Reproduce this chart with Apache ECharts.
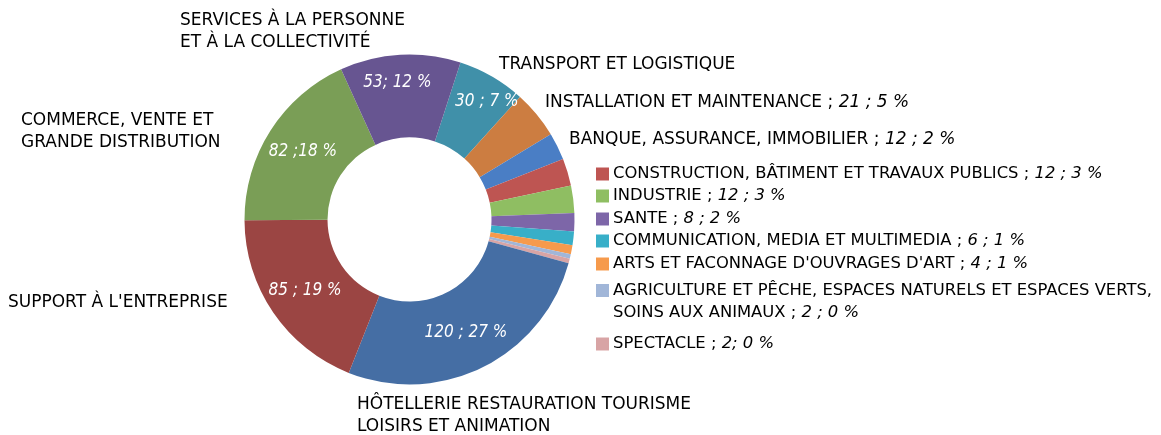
<!DOCTYPE html>
<html><head><meta charset="utf-8">
<script src="https://cdn.jsdelivr.net/npm/echarts@6/dist/echarts.min.js"></script>
<style>html,body{margin:0;padding:0;background:#fff}#c{width:1161px;height:435px}</style>
</head><body><div id="c"></div>
<script>
// Categories in clockwise order, starting right after "Services" at the top
const categories = [
  'TRANSPORT ET LOGISTIQUE',
  'INSTALLATION ET MAINTENANCE',
  'BANQUE, ASSURANCE, IMMOBILIER',
  'CONSTRUCTION, BÂTIMENT ET TRAVAUX PUBLICS',
  'INDUSTRIE',
  'SANTE',
  'COMMUNICATION, MEDIA ET MULTIMEDIA',
  "ARTS ET FACONNAGE D'OUVRAGES D'ART",
  'AGRICULTURE ET PÊCHE, ESPACES NATURELS ET ESPACES VERTS,\nSOINS AUX ANIMAUX',
  'SPECTACLE',
  'HÔTELLERIE RESTAURATION TOURISME\nLOISIRS ET ANIMATION',
  "SUPPORT À L'ENTREPRISE",
  'COMMERCE, VENTE ET\nGRANDE DISTRIBUTION',
  'SERVICES À LA PERSONNE\nET À LA COLLECTIVITÉ'
];
const values = [30, 21, 12, 12, 12, 8, 6, 4, 2, 2, 120, 85, 82, 53];
const percents = [7, 5, 2, 3, 3, 2, 1, 1, 0, 0, 27, 19, 18, 12];
// value labels shown inside the ring (as written on the chart)
const insideLabels = ['30 ; 7 %', '', '', '', '', '', '', '', '', '', '120 ; 27 %', '85 ; 19 %', '82 ;18 %', '53; 12 %'];
// value part shown after the category name outside the ring
const outsideValueLabels = ['', '21 ; 5 %', '12 ; 2 %', '12 ; 3 %', '12 ; 3 %', '8 ; 2 %', '6 ; 1 %', '4 ; 1 %', '2 ; 0 %', '2; 0 %', '', '', '', ''];
const colors = ['#4090A9', '#CC7D41', '#4A7EC5', '#BE5552', '#8FBE62', '#7D66A8', '#38AFC8', '#F69A4C', '#A1B6D8', '#D8A4A5', '#456EA4', '#9B4543', '#7A9E56', '#675591'];

// label placement (annotation layout)
const outsidePos = {
  0: [499, 65], 1: [545, 103], 2: [569, 140],
  3: [596, 174], 4: [596, 196], 5: [596, 219], 6: [596, 241], 7: [596, 264], 8: [596, 301.5], 9: [596, 344],
  10: [357, 416], 11: [8, 303], 12: [21, 132], 13: [180, 32]
};
const insideShift = { 0: [14, -8], 13: [-5, -11] };
const legendIdx = [3, 4, 5, 6, 7, 8, 9];

const FONT = 'DejaVu Sans';
const rich = {
  it: { fontStyle: 'italic' },
  g: { width: 4 },
  sp: { width: 17 }
};
legendIdx.forEach(i => {
  rich['sq' + i] = { width: 13, height: 13, backgroundColor: colors[i] };
});

const data = categories.map((n, i) => ({ name: n, value: values[i] }));
const labelData = categories.map((n, i) => ({
  name: n, value: values[i],
  label: legendIdx.includes(i) ? { fontSize: 16.4 } : {}
}));

const chart = echarts.init(document.getElementById('c'), null, { renderer: 'canvas' });
chart.setOption({
  animation: false,
  color: colors,
  series: [
    {
      type: 'pie',
      center: [409.5, 219.5],
      radius: [82, 165],
      startAngle: 72,
      clockwise: true,
      avoidLabelOverlap: false,
      silent: true,
      itemStyle: { borderWidth: 0 },
      data: data,
      label: {
        show: true,
        position: 'inside',
        formatter: p => insideLabels[p.dataIndex],
        color: '#fff',
        fontStyle: 'italic',
        fontFamily: 'DejaVu Sans Condensed',
        fontSize: 17
      },
      labelLayout: p => {
        const s = insideShift[p.dataIndex];
        return s ? { dx: s[0], dy: s[1] } : {};
      },
      emphasis: { disabled: true }
    },
    {
      type: 'pie',
      center: [409.5, 219.5],
      radius: [82, 165],
      startAngle: 72,
      clockwise: true,
      avoidLabelOverlap: false,
      silent: true,
      itemStyle: { color: 'rgba(0,0,0,0)', borderWidth: 0 },
      data: labelData,
      label: {
        show: true,
        position: 'outside',
        color: '#000',
        fontFamily: FONT,
        fontSize: 17,
        lineHeight: 22,
        rich: rich,
        formatter: p => {
          const i = p.dataIndex;
          let name = categories[i];
          const v = outsideValueLabels[i];
          if (legendIdx.includes(i)) {
            name = name.replace('\n', '\n{sp|}');
            return '{sq' + i + '|}{g|}' + name + ' ; {it|' + v + '}';
          }
          return v ? name + ' ; {it|' + v + '}' : name;
        }
      },
      labelLine: { show: false },
      labelLayout: p => {
        const pos = outsidePos[p.dataIndex];
        return { x: pos[0], y: pos[1], align: 'left', verticalAlign: 'middle' };
      },
      emphasis: { disabled: true }
    }
  ]
});
</script>
</body></html>
